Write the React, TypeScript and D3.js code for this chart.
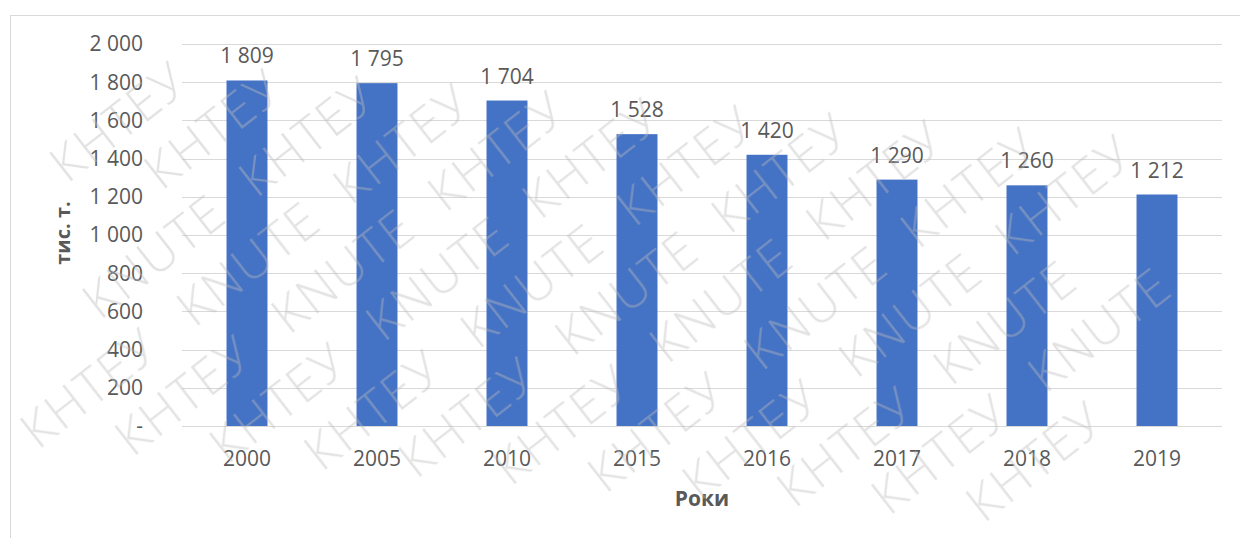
import React from "react";
import * as d3 from "d3";

const years = ["2000", "2005", "2010", "2015", "2016", "2017", "2018", "2019"];
const values = [1809, 1795, 1704, 1528, 1420, 1290, 1260, 1212];
const yTicks = [0, 200, 400, 600, 800, 1000, 1200, 1400, 1600, 1800, 2000];
const yTitle = "тис. т.";
const xTitle = "Роки";
const watermarkWords = ["KNUTE", "КНТЕУ"];

const W = 1240;
const H = 538;
const FONT = "'Open Sans', 'Noto Sans', sans-serif";
const TEXT = "#595959";

const fmt = (v: number) => (v === 0 ? "-" : d3.format(",")(v).replace(/,/g, " "));

const ANG = (38 * Math.PI) / 180;
const WM_FS = 50;
const WM_W = WM_FS * 3.25 + 10;
const WM_ASC = WM_FS * 0.74;
const WM_DESC = WM_FS * 0.2;
const STEP = WM_W + 26;
const ROW = 64;

function watermarkItems() {
  const c = Math.cos(ANG);
  const s = Math.sin(ANG);
  const items: { x: number; y: number; word: string; key: string }[] = [];
  for (let v = -16; v <= 18; v++) {
    for (let u = -12; u <= 16; u++) {
      const along = u * STEP + v * 70;
      const px = -60 + along * c + v * ROW * s;
      const py = 40 - along * s + v * ROW * c;
      const cs = [
        [0, WM_DESC],
        [WM_W, WM_DESC],
        [0, -WM_ASC],
        [WM_W, -WM_ASC],
      ].map(([a, b]) => [px + a * c + b * s, py - a * s + b * c]);
      const ok = cs.every(([cx, cy]) => cx >= 0 && cx <= W && cy >= 0 && cy <= H);
      if (ok) items.push({ x: px, y: py, word: watermarkWords[((u % 2) + 2) % 2], key: `${u}_${v}` });
    }
  }
  return items;
}

export default function App() {
  const x = d3.scaleBand<string>().domain(years).range([182, 1222]).paddingInner(0.685).paddingOuter(0.3425);
  const y = d3.scaleLinear().domain([0, 2000]).range([426, 44]);
  const wm = watermarkItems();

  return (
    <svg width={W} height={H} style={{ position: "absolute", left: 0, top: 0, background: "#fff" }} fontFamily={FONT}>
      <rect x={0} y={0} width={W} height={H} fill="#fff" />
      <rect x={10.5} y={15.5} width={W + 20} height={H + 20} fill="none" stroke="#d9d9d9" strokeWidth={1} />
      {yTicks.map((t) => (
        <g key={t}>
          <line x1={182} x2={1222} y1={Math.round(y(t)) + 0.5} y2={Math.round(y(t)) + 0.5} stroke="#d9d9d9" strokeWidth={1} />
          <text x={143} y={y(t)} dy="0.35em" textAnchor="end" fontSize={21} fill={TEXT}>
            {fmt(t)}
          </text>
        </g>
      ))}
      {years.map((yr, i) => (
        <g key={yr}>
          <rect x={x(yr)} y={y(values[i])} width={x.bandwidth()} height={y(0) - y(values[i])} fill="#4472C4" />
          <text x={(x(yr) as number) + x.bandwidth() / 2} y={y(values[i]) - 17} textAnchor="middle" fontSize={21} fill={TEXT}>
            {fmt(values[i])}
          </text>
          <text x={(x(yr) as number) + x.bandwidth() / 2} y={466} textAnchor="middle" fontSize={21} fill={TEXT}>
            {yr}
          </text>
        </g>
      ))}
      <text x={702} y={506} textAnchor="middle" fontSize={21} fontWeight="bold" fill={TEXT}>
        {xTitle}
      </text>
      <text transform={`translate(70,${233}) rotate(-90)`} textAnchor="middle" fontSize={20} fontWeight="bold" fill={TEXT}>
        {yTitle}
      </text>
      <g opacity={0.42} pointerEvents="none">
        {wm.map((d) => (
          <text
            key={d.key}
            transform={`translate(${d.x},${d.y}) rotate(-38)`}
            fontSize={WM_FS}
            fontWeight={300}
            fill="#bdbdbd"
            letterSpacing={2}
          >
            {d.word}
          </text>
        ))}
      </g>
    </svg>
  );
}
